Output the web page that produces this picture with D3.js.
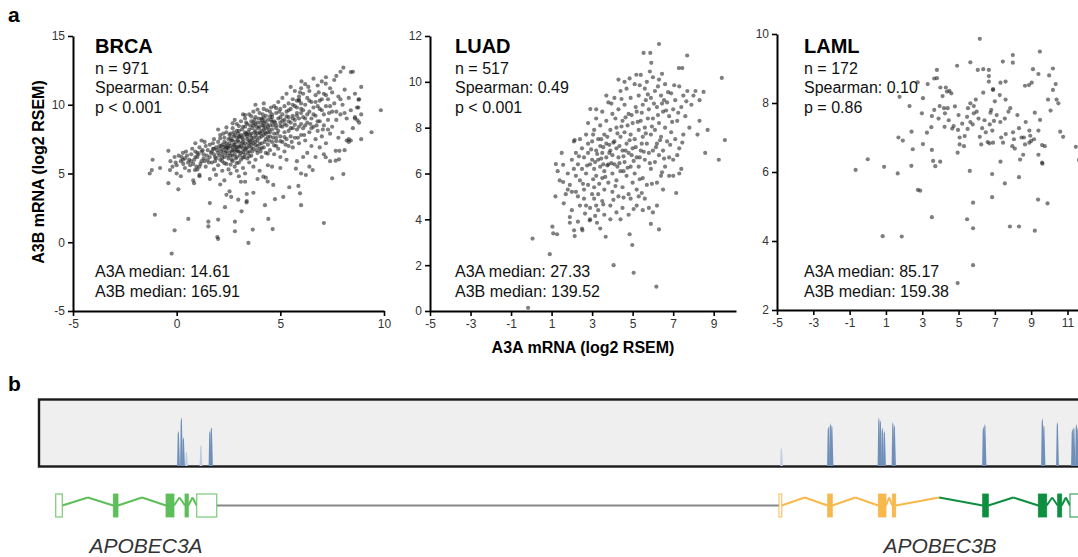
<!DOCTYPE html>
<html lang="en">
<head>
<meta charset="utf-8">
<title>A3A / A3B expression</title>
<script src="https://d3js.org/d3.v7.min.js"></script>
<style>
  body { margin: 0; background: #fff; }
  svg text { font-family: "Liberation Sans", Arial, sans-serif; }
  .tick text { font-size: 12px; fill: #333; }
</style>
</head>
<body>
<script>
// ---- panel a: A3A vs A3B expression, [A3A, A3B] log2 RSEM
const brcaPts = [
  [-1.2,5.25],[-1.3,5.0],[-1.16,6.0],[-0.8,5.4],[-1.05,2.0],[-0.4,6.65],[-0.32,5.25],[-0.4,4.3],[-0.1,0.87],[-0.24,-0.82],
  [0.08,3.85],[0.24,6.2],[0.32,5.7],[0.56,1.7],[0.84,4.3],[0.88,5.25],[1.1,4.8],[1.6,2.85],[1.53,1.5],[1.53,1.15],
  [2.0,1.65],[1.96,0.38],[2.0,0.24],[2.33,2.55],[2.4,3.45],[2.55,3.7],[2.81,1.5],[2.81,0.8],[2.97,3.1],[3.13,2.25],
  [3.3,4.4],[3.37,2.9],[3.7,3.6],[3.46,-0.05],[3.67,0.92],[4.26,2.7],[4.42,1.7],[4.63,0.96],[4.74,3.13],[5.14,3.3],
  [5.43,4.0],[5.87,4.1],[5.95,3.56],[6.0,2.7],[7.1,1.4],[7.5,4.65],[8.04,4.96],[7.85,6.65],[9.4,8.0],[9.85,9.6],
  [8.9,11.3],[8.8,10.4],[8.5,12.4],[8.04,12.7],[7.9,12.4],[7.7,12.1],[8.76,9.8],[8.6,9.0],[8.9,9.3],[8.3,7.5],
  [8.1,6.7],[2.63,3.3],[3.38,3.51],[3.38,3.0],[4.66,4.17],[4.39,4.41],[4.18,4.77],[6.23,4.89],[6.56,5.25],[5.75,5.35],
  [7.19,6.18],[7.67,5.93],[7.83,6.03],[7.67,6.65],[8.2,7.4],[8.4,7.4],[8.72,8.87],[8.77,10.37],[7.19,11.53],[6.02,11.7],
  [-0.3,5.9],[-0.1,6.2],[0.0,5.6],[0.1,6.3],[0.2,5.9],[0.3,6.5],[0.4,5.4],[0.4,6.1],[0.0,5.0],[0.2,4.8],[-0.2,5.5],
  [0.6,6.0],[0.7,6.4],[0.8,5.7],[0.9,6.6],[1.0,6.2],[1.0,5.3],[1.1,6.9],[1.2,5.9],[1.3,6.4],[1.4,7.0],[1.4,5.5],
  [0.6,5.2],[0.8,4.5],[1.1,4.9],[1.3,6.1],[1.2,7.4],[0.9,7.2],[1.5,6.7],[0.7,5.9],[1.0,6.5],
  [1.6,6.2],[1.6,7.1],[1.7,5.8],[1.7,6.6],[1.8,7.5],[1.8,5.3],[1.9,6.9],[1.9,6.1],[2.0,7.3],[2.0,6.5],[2.0,5.6],
  [2.1,7.8],[2.1,6.8],[2.1,6.0],[2.2,7.1],[2.2,6.4],[2.2,5.2],[2.3,7.6],[2.3,6.9],[2.3,6.2],[2.4,8.0],[2.4,7.2],
  [2.4,6.6],[2.4,5.7],[2.5,7.5],[2.5,6.8],[2.5,6.1],[1.6,4.6],[1.9,4.9],[2.3,4.5],[2.0,8.2],[2.2,5.9],[1.8,6.4],
  [2.5,5.3],[2.1,4.2],
  [2.6,7.9],[2.6,7.0],[2.6,6.3],[2.7,8.3],[2.7,7.4],[2.7,6.7],[2.7,5.9],[2.8,7.8],[2.8,7.1],[2.8,6.4],[2.8,5.5],
  [2.9,8.6],[2.9,7.6],[2.9,6.9],[2.9,6.2],[3.0,8.1],[3.0,7.3],[3.0,6.6],[3.0,5.8],[3.1,8.8],[3.1,7.8],[3.1,7.0],
  [3.1,6.0],[3.2,8.4],[3.2,7.5],[3.2,6.8],[3.2,5.4],[3.3,9.0],[3.3,8.0],[3.3,7.2],[3.3,6.4],[3.4,8.6],[3.4,7.7],
  [3.4,6.9],[3.4,6.1],[3.5,9.3],[3.5,8.2],[3.5,7.4],[3.5,6.6],[2.6,5.0],[3.0,4.8],[3.3,5.0],[2.8,8.9],[3.2,9.3],
  [3.5,5.8],[2.9,5.2],[3.1,4.4],
  [3.6,8.8],[3.6,7.9],[3.6,7.1],[3.6,6.3],[3.7,9.5],[3.7,8.5],[3.7,7.6],[3.7,6.8],[3.8,9.1],[3.8,8.1],[3.8,7.3],
  [3.8,6.0],[3.9,8.7],[3.9,7.9],[3.9,7.0],[3.9,6.5],[4.0,9.4],[4.0,8.4],[4.0,7.6],[4.0,6.8],[4.1,9.0],[4.1,8.1],
  [4.1,7.2],[4.1,6.2],[4.2,9.7],[4.2,8.7],[4.2,7.8],[4.2,6.9],[4.3,9.2],[4.3,8.3],[4.3,7.5],[4.3,6.5],[4.4,8.9],
  [4.4,8.0],[4.4,7.1],[4.4,5.6],[4.5,9.5],[4.5,8.5],[4.5,7.7],[4.5,6.7],[3.7,5.5],[4.0,5.2],[4.3,4.7],[3.9,4.6],
  [4.2,10.1],[3.8,10.0],
  [4.6,9.1],[4.6,8.2],[4.6,7.3],[4.7,9.9],[4.7,8.8],[4.7,7.9],[4.7,6.4],[4.8,9.4],[4.8,8.5],[4.8,7.6],[4.8,7.0],
  [4.9,10.2],[4.9,9.0],[4.9,8.1],[4.9,6.8],[5.0,9.7],[5.0,8.7],[5.0,7.7],[5.0,6.2],[5.1,10.5],[5.1,9.3],[5.1,8.4],
  [5.1,7.3],[5.2,9.9],[5.2,8.9],[5.2,8.0],[5.2,6.6],[5.3,10.8],[5.3,9.5],[5.3,8.5],[5.3,7.5],[5.4,10.1],[5.4,9.1],
  [5.4,8.1],[5.4,7.0],[5.5,9.7],[5.5,8.7],[5.5,7.7],[4.6,5.5],[5.0,5.4],[5.3,6.0],[5.5,11.3],
  [5.6,10.4],[5.6,9.2],[5.6,8.3],[5.6,6.9],[5.7,11.0],[5.7,9.9],[5.7,8.9],[5.7,7.6],[5.8,10.3],[5.8,9.4],[5.8,8.2],
  [5.9,10.6],[5.9,10.3],[5.9,9.0],[5.9,7.2],[6.0,11.2],[6.0,10.1],[6.0,8.6],[6.0,7.8],[6.1,10.8],[6.1,9.6],[6.1,8.3],
  [6.2,11.5],[6.2,10.0],[6.2,9.0],[6.2,7.4],[6.3,10.5],[6.3,8.7],[6.3,6.5],[6.4,11.0],[6.4,9.5],[6.4,8.0],[6.5,10.2],
  [6.5,9.0],[6.5,7.0],[5.8,5.9],[6.1,6.2],[6.4,5.5],[6.0,5.0],
  [6.6,11.9],[6.6,9.8],[6.6,8.4],[6.7,10.7],[6.7,9.2],[6.7,7.5],[6.8,11.4],[6.8,9.9],[6.8,8.1],[6.9,10.3],[6.9,8.8],
  [6.9,6.9],[7.0,11.7],[7.0,9.6],[7.0,7.7],[7.1,10.8],[7.1,8.5],[7.2,12.0],[7.2,9.9],[7.2,7.2],[7.3,10.4],[7.3,8.9],
  [7.4,11.2],[7.4,7.9],[7.5,9.5],[7.5,8.4],[6.7,6.2],[7.1,6.4],[7.4,5.9],
  [7.6,11.8],[7.6,10.1],[7.7,8.9],[7.8,10.6],[7.8,7.6],[7.9,9.3],[8.0,10.0],[8.0,8.0],[8.1,11.1],[8.2,9.0],
  [8.3,10.5],[8.3,7.3],[8.4,9.6],[8.5,8.3],[8.6,10.8],[8.6,9.1],[8.7,9.8],[8.8,8.7],[8.9,7.5],[8.4,12.38],
  [2.15,7.0],[2.35,6.5],[2.55,7.2],[2.65,6.6],[2.75,7.7],[2.85,6.9],[2.95,7.4],[3.05,6.9],[3.15,7.6],[3.25,7.0],
  [3.35,7.9],[3.45,7.2],[3.55,7.8],[3.65,7.4],[3.75,8.0],[3.85,7.6],[3.95,8.3],[4.05,7.9],[4.15,8.5],[4.25,8.0],
  [4.35,8.6],[4.45,8.2],[4.55,8.9],[4.65,8.5],[2.45,6.9],[2.65,7.4],[2.85,7.3],[3.05,7.7],[3.25,7.8],[3.45,8.0],
  [3.65,8.3],[3.85,8.4],[4.05,8.7],[4.25,8.8],[2.25,6.7],[2.5,7.0],[2.7,6.3],[3.0,7.0],[3.2,7.3],[3.4,7.5],
  [3.6,7.6],[3.8,7.8],[4.0,8.0],[4.2,8.2],[4.4,8.4],[3.1,6.5],[3.3,6.7],[3.5,7.0],[3.7,7.2],[3.9,7.4],
  [4.1,7.7],[4.3,7.9],[4.5,8.0],[2.9,6.7],[2.7,6.9],[2.3,7.3],[2.9,8.1],[3.3,8.4],[3.7,8.7],[4.1,8.9],
  [4.6,9.3],[5.0,9.1],[4.8,8.3],[5.2,8.6],[5.4,8.8],[5.6,9.0],[5.8,9.2],[6.0,9.4],[5.9,10.35],[1.75,6.8],
  [1.85,6.2],[2.05,6.3],[2.15,6.6],[2.35,7.0],[2.55,6.5],[2.75,7.1],[2.95,6.6],[3.15,7.2],[3.35,6.8],[3.55,7.3],
  [0.5,6.3],[0.65,5.6],[0.75,6.8],[0.85,6.0],[0.95,5.5],[1.05,6.4],[1.15,5.7],[1.25,6.7],[1.35,5.9],[1.45,6.3],
  [1.55,5.8],[1.65,6.5],[1.75,7.2],[1.85,5.9],[1.95,6.7],[0.55,5.8],[0.9,6.2],[1.2,6.6],[1.5,6.0],[1.8,6.8],
  [1.35,7.3],[1.1,5.5],[0.3,6.0],[0.45,6.6],[-0.05,5.8],
  [2.05,7.0],[2.25,7.9],[2.45,6.3],[2.55,7.8],[2.65,6.0],[2.75,8.0],[2.85,6.1],[2.95,7.9],[3.05,6.3],[3.15,8.2],
  [3.25,6.2],[3.35,8.7],[3.45,6.5],[3.55,8.5],[3.65,6.6],[3.75,8.9],[3.85,6.7],[3.95,9.0],[4.05,6.6],[4.15,9.3],
  [4.25,7.3],[4.35,9.6],[4.45,7.4],[4.55,9.8],[4.65,7.6],[4.75,8.7],[4.85,7.9],[4.95,9.5],[2.2,6.15],[2.4,6.85],
  [2.6,7.55],[2.8,6.65],[3.0,7.65],[3.2,6.15],[3.4,7.85],[3.6,6.85],[3.8,8.6],[4.0,7.15],[4.2,8.45],[4.4,7.65],
  [4.6,8.75],[4.8,7.35],[5.0,8.45],[2.3,5.75],[2.6,5.65],[2.9,5.75],[3.2,6.55],[3.5,6.25],[3.8,7.05],[4.1,6.85],
  [4.4,6.45],[4.7,7.05],[5.0,7.35],[2.1,7.55],[2.4,8.35],[2.7,8.65],[3.0,8.45],[3.3,9.25],[3.6,9.15],[3.9,9.65],
  [4.2,9.05],[4.5,9.15],[4.8,9.75],
  [5.1,8.85],[5.2,7.65],[5.3,9.15],[5.4,9.6],[5.5,8.3],[5.6,10.0],[5.7,8.55],[5.8,9.8],[5.9,8.4],[6.0,9.7],
  [6.1,9.1],[6.2,8.5],[6.3,9.3],[6.4,10.3],[6.5,8.3],[6.6,9.3],[6.7,10.2],[6.8,8.8],[6.9,9.7],[7.0,10.4],
  [7.1,9.3],[7.2,10.7],[7.3,8.2],[7.4,9.9],[7.5,10.9],[7.7,9.5],[7.9,10.4],[8.1,9.4],[5.25,7.1],[5.55,7.3],
  [5.85,7.6],[6.15,7.8],[6.45,8.6],[6.75,8.5],[7.05,8.2],[7.35,9.4],[5.95,10.9],[6.35,11.3],[6.85,10.9]
];

const luadPts = [
  [6.30,11.65],[5.54,11.26],[5.87,11.26],[5.92,10.83],[7.69,11.15],[7.28,10.6],[7.45,10.6],[5.18,10.31],[6.3,3.56],[4.98,2.88],
  [4.85,3.35],[6.17,1.06],[5.05,1.67],[4.06,2.0],[3.67,3.24],[0.91,2.48],[0.06,3.16],[1.08,3.39],[1.27,3.35],[1.04,3.68],
  [1.19,5.0],[2.11,3.52],[2.52,3.52],[2.14,3.27],[1.9,3.85],[2.88,3.95],[3.24,3.85],[1.57,5.63],[1.21,6.41],[1.57,6.38],
  [2.14,7.46],[2.91,8.81],[-0.16,0.14],
  [1.4,5.7],[1.8,6.0],[1.9,5.5],[1.7,5.1],[1.5,6.9],[2.0,6.6],[2.1,7.4],[1.6,4.7],[2.0,4.4],[1.9,4.1],[2.2,5.9],[2.0,5.2],
  [2.2,6.9],[2.3,6.4],[2.4,5.7],[2.5,6.2],[2.5,7.1],[2.6,5.3],[2.6,6.7],[2.7,7.7],[2.7,6.0],[2.8,5.5],[2.8,6.9],
  [2.9,6.4],[2.9,4.5],[3.0,7.4],[3.0,5.1],[2.4,4.6],[2.2,5.2],[2.6,4.9],[3.0,6.6],[2.8,7.3],[2.4,7.5],[2.3,3.9],
  [2.5,3.6],[2.9,4.0],
  [3.1,7.9],[3.1,6.2],[3.1,5.4],[3.2,7.0],[3.2,8.4],[3.2,5.9],[3.3,6.6],[3.3,7.5],[3.3,5.1],[3.4,8.1],[3.4,6.3],
  [3.4,7.2],[3.5,8.7],[3.5,5.8],[3.5,6.9],[3.5,4.8],[3.6,7.7],[3.6,6.1],[3.6,5.3],[3.7,8.3],[3.7,6.7],[3.7,7.3],
  [3.8,9.1],[3.8,5.6],[3.8,6.4],[3.9,7.9],[3.9,7.0],[3.9,4.6],[4.0,8.6],[4.0,6.0],[4.0,6.8],[4.0,5.2],[3.3,4.4],
  [3.6,4.2],[3.9,4.0],[3.4,3.6],[3.2,4.6],[3.7,9.4],[3.05,7.7],[3.15,6.5],[3.45,7.5],[3.55,6.4],[3.75,7.6],[3.85,6.9],
  [4.1,9.3],[4.1,7.4],[4.1,6.4],[4.2,8.0],[4.2,5.7],[4.2,7.1],[4.3,8.8],[4.3,6.7],[4.3,5.0],[4.4,9.6],[4.4,7.6],
  [4.4,6.1],[4.5,8.3],[4.5,7.0],[4.5,5.4],[4.6,9.0],[4.6,6.5],[4.6,7.8],[4.7,9.7],[4.7,7.3],[4.7,5.9],[4.8,8.6],
  [4.8,6.9],[4.8,5.1],[4.9,9.3],[4.9,7.7],[4.9,6.3],[5.0,8.2],[5.0,7.1],[5.0,5.6],[4.2,4.3],[4.5,4.5],[4.8,4.2],
  [4.4,4.0],[4.9,4.9],[4.6,10.0],[4.3,10.1],[4.15,8.4],[4.35,7.2],[4.55,6.1],[4.75,8.1],[4.95,6.8],[4.25,6.3],[4.65,7.0],
  [5.1,9.9],[5.1,7.5],[5.1,6.0],[5.2,8.7],[5.2,6.7],[5.2,5.3],[5.3,9.4],[5.3,7.9],[5.3,6.3],[5.4,10.3],[5.4,8.3],
  [5.4,7.0],[5.5,9.0],[5.5,7.6],[5.5,5.8],[5.6,9.7],[5.6,6.6],[5.6,8.0],[5.7,10.0],[5.7,7.3],[5.7,5.5],[5.8,8.8],
  [5.8,6.9],[5.9,9.3],[5.9,7.7],[5.9,6.2],[6.0,10.2],[6.0,8.4],[6.0,7.0],[5.2,4.6],[5.5,4.4],[5.8,4.5],[5.9,3.8],
  [5.3,5.0],[5.6,4.9],[5.15,8.9],[5.45,7.3],[5.75,8.4],[5.35,6.7],[5.65,9.2],
  [6.1,9.6],[6.1,7.9],[6.1,6.5],[6.2,8.9],[6.2,7.3],[6.2,5.6],[6.3,10.1],[6.3,8.2],[6.3,6.8],[6.4,9.4],[6.4,7.6],
  [6.4,5.9],[6.5,8.7],[6.5,7.0],[6.6,9.9],[6.6,8.0],[6.6,6.3],[6.7,9.1],[6.7,7.4],[6.8,8.5],[6.8,6.7],[6.9,9.5],
  [6.9,7.8],[7.0,8.8],[7.0,6.6],[6.2,4.6],[6.5,5.3],[6.8,5.9],[7.0,5.9],[6.0,4.3],[6.25,9.8],[6.55,9.2],
  [7.1,9.2],[7.1,7.5],[7.2,8.3],[7.2,6.8],[7.3,9.8],[7.3,7.1],[7.4,8.9],[7.4,6.2],[7.5,9.4],[7.5,7.7],[7.6,8.5],
  [7.7,9.6],[7.8,8.0],[7.9,9.0],[7.15,5.15],[7.3,6.0],
  [8.1,9.6],[8.3,9.2],[8.3,8.3],[8.5,9.56],[8.58,6.9],[8.7,7.9],[9.25,6.6],[9.4,10.17],[9.55,7.46],[8.0,9.4],[8.2,7.7],
  [2.1,6.2],[2.35,6.75],[2.55,5.55],[2.75,6.35],[2.95,7.05],[3.05,5.75],[3.25,6.85],[3.35,5.55],[3.45,6.65],[3.55,7.15],
  [3.65,5.85],[3.75,6.35],[3.85,7.25],[3.95,6.45],[4.05,7.35],[4.15,5.45],[4.25,7.75],[4.35,6.45],[4.45,8.05],[4.55,6.75],
  [4.65,8.45],[4.75,6.25],[4.85,7.45],[4.95,8.55],[5.05,6.55],[5.15,7.15],[5.25,8.25],[5.35,5.75],[5.45,8.65],[5.55,6.95],
  [5.65,7.75],[5.75,9.45],[5.85,6.45],[5.95,8.05],[6.05,9.05],[6.15,7.15],[6.25,8.55],[6.35,7.45],[6.45,9.05],[6.55,6.65],
  [6.65,8.75],[6.75,9.55],[6.85,7.25],[6.95,8.25],[7.05,9.85],[7.25,8.65],[7.45,7.35],[7.65,9.15],[2.65,4.25],[3.15,4.15],
  [3.55,4.65],[4.05,4.85],[4.55,4.95],[5.05,4.45],[5.45,5.15],[5.95,5.55],[6.45,6.05],[3.95,9.05],[4.45,9.25],[4.85,10.15],
  [5.35,9.85],[5.85,10.45],[6.45,10.35],[2.8,8.2],[3.2,8.8],[1.8,5.3],[2.3,5.0],[2.7,4.6],[3.1,4.9],[1.3,6.1]
];

const lamlPts = [
  [6.17,9.86],[3.81,8.96],[3.66,8.71],[3.81,8.72],[4.92,9.08],[5.65,9.18],[6.06,8.96],[6.36,8.98],[6.67,8.96],[6.67,8.78],
  [6.67,8.62],[6.36,8.3],[6.9,8.4],[7.44,9.2],[7.99,9.39],[7.99,9.17],[7.31,8.59],[7.59,8.62],[6.9,8.38],[9.48,9.49],
  [9.1,8.98],[9.4,8.84],[10.2,9.0],[9.99,8.8],[10.35,8.55],[10.2,8.38],[9.93,8.1],[10.4,8.1],[10.5,7.99],[10.07,7.78],
  [8.66,8.5],[8.88,8.52],[9.03,8.59],[10.6,7.17],[10.76,7.02],[11.46,6.73],[11.64,6.35],[9.49,7.51],[9.2,7.72],[9.4,7.2],
  [9.16,6.95],[9.6,6.78],[9.75,6.75],[8.9,6.85],[8.6,7.0],[8.66,6.8],[9.4,6.5],[9.6,6.27],[9.62,6.24],[9.38,5.2],
  [9.9,5.09],[9.2,4.3],[8.33,4.42],[7.83,4.42],[7.55,5.67],[6.85,5.27],[6.85,5.94],[5.8,5.11],[5.8,4.37],[5.47,4.63],
  [5.62,6.03],[5.8,3.3],[3.53,4.69],[4.95,2.78],[2.76,5.48],[2.89,5.46],[0.82,4.14],[1.87,4.13],[-0.67,6.06],[0.0,6.37],
  [0.9,6.15],[1.65,5.96],[2.4,6.18],[3.6,6.32],[3.72,6.17],[3.99,6.3],[3.53,6.64],[2.48,6.66],[3.04,6.81],[3.26,7.14],
  [2.41,7.17],[1.69,7.0],[1.93,6.91],[1.75,8.18],[2.3,7.91],[2.98,7.7],[3.04,8.14],[3.53,7.62],[3.66,7.8],[3.96,7.91],
  [4.12,8.2],[4.36,8.33],[4.6,8.28],[4.2,7.85],[4.25,7.7],[4.46,7.5],[4.73,7.33],[4.65,7.26],[5.0,7.65],[4.97,7.22],
  [5.06,7.0],[5.34,7.04],[5.06,6.8],[4.95,6.56],[5.52,7.85],[5.65,7.99],[5.84,7.91],[5.84,7.7],[5.47,7.6],[5.65,7.45],
  [5.78,7.38],[6.0,7.75],[6.17,7.02],[6.3,7.27],[6.43,7.5],[6.76,7.72],[6.8,7.8],[6.6,6.87],[6.7,6.83],[6.72,7.38],
  [6.95,7.48],[6.86,7.2],[6.9,6.85],[7.31,6.3],[7.35,7.0],[7.3,7.45],[7.55,7.55],[7.6,7.1],[7.75,7.75],[7.85,7.85],
  [7.96,6.75],[8.1,6.68],[8.0,7.15],[8.33,7.27],[8.24,7.65],[8.05,6.95],[8.47,7.0],[8.56,6.5],[8.33,5.85],[8.39,6.36],
  [8.95,7.05],[9.0,6.9],[7.27,8.23],[7.59,8.1],[4.3,8.45],[4.5,8.35],[4.0,8.45],[3.3,8.55],[2.75,8.6],[4.23,7.31],
  [3.5,7.3],[3.9,7.55],[4.4,7.85],[5.2,7.4],[5.3,6.75],[6.1,7.55],[6.25,6.8],[7.1,7.65],[7.45,6.85],[8.7,7.45],
  [8.9,7.2],[6.5,7.15],[5.95,8.1],[5.5,7.25],[4.8,7.9],[7.0,8.05]
];

const panelNames = ["BRCA", "LUAD", "LAML"];
const sampleN = [971, 517, 172];
const spearman = ["0.54", "0.49", "0.10"];
const pText = ["p < 0.001", "p < 0.001", "p = 0.86"];
const a3aMedian = ["14.61", "27.33", "85.17"];
const a3bMedian = ["165.91", "139.52", "159.38"];
const xTicks = [[-5, 0, 5, 10], [-5, -3, -1, 1, 3, 5, 7, 9], [-5, -3, -1, 1, 3, 5, 7, 9, 11]];
const yTicks = [[-5, 0, 5, 10, 15], [0, 2, 4, 6, 8, 10, 12], [2, 4, 6, 8, 10]];

// ---- panel b: read coverage spikes (position kb, height %) and gene model
const covPos = [6.975, 7.125, 7.225, 7.375, 8.1, 8.55, 8.625, 37.125, 39.475, 39.575, 39.65, 42.0, 42.075, 42.175, 42.275,
  42.7, 42.775, 47.225, 47.3, 50.175, 50.25, 50.925, 51.675, 51.75, 51.875, 51.95];
const covHeight = [55, 76, 45, 22, 33, 55, 61, 28, 62, 67, 64, 76, 72, 60, 55, 69, 64, 62, 66, 75, 64, 69, 58, 61, 66, 60];
const covFaint = [0, 0, 0, 1, 1, 0, 0, 1, 0, 0, 0, 0, 0, 0, 0, 0, 0, 0, 0, 0, 0, 0, 0, 0, 0, 0];

const a3aExons = [[0.835, 1.165], [3.715, 3.95], [6.35, 6.75], [7.3, 7.465], [7.885, 8.885]];
const a3aUtr = [1, 0, 0, 0, 1];
const a3bExons = [[37.0, 37.135], [39.435, 39.665], [41.965, 42.35], [42.665, 42.835], [47.185, 47.465],
  [49.965, 50.385], [50.935, 51.135], [51.55, 52.6]];
const a3bUtr = [1, 0, 0, 0, 0, 0, 0, 1];
const a3bGroup = ["b", "b", "b", "b", "f", "f", "f", "f"];

const svg = d3.select("body").append("svg")
  .attr("width", 1078)
  .attr("height", 557);

svg.append("text").attr("x", 8).attr("y", 22)
  .style("font-size", "21px").style("font-weight", "bold").text("a");
svg.append("text").attr("x", 8).attr("y", 391)
  .style("font-size", "21px").style("font-weight", "bold").text("b");

// layout of the three scatter panels
const layout = [
  { xd: [-5, 10], xr: [73, 384], yd: [-5, 15], yr: [311, 36], tx: 95 },
  { xd: [-5, 10.1], xr: [430, 736], yd: [0, 12], yr: [311, 36], tx: 455 },
  { xd: [-5, 11.8], xr: [777, 1082], yd: [2, 10], yr: [310, 34], tx: 804 }
];
const allPts = [brcaPts, luadPts, lamlPts];

layout.forEach(function(L, i) {
  const x = d3.scaleLinear().domain(L.xd).range(L.xr);
  const y = d3.scaleLinear().domain(L.yd).range(L.yr);
  const g = svg.append("g");

  g.append("g").selectAll("circle")
    .data(allPts[i])
    .join("circle")
    .attr("cx", d => x(d[0]))
    .attr("cy", d => y(d[1]))
    .attr("r", 2.1)
    .attr("fill", "#222")
    .attr("fill-opacity", 0.58);

  const yAxis = g.append("g")
    .attr("transform", "translate(" + L.xr[0] + ",0)")
    .call(d3.axisLeft(y).tickValues(yTicks[i]).tickSize(5).tickSizeOuter(0).tickFormat(d3.format("d")));
  const xAxis = g.append("g")
    .attr("transform", "translate(0," + L.yr[0] + ")")
    .call(d3.axisBottom(x).tickValues(xTicks[i]).tickSize(5).tickSizeOuter(0).tickFormat(d3.format("d")));
  [xAxis, yAxis].forEach(function(a) {
    a.select(".domain").attr("stroke", "#000").attr("stroke-width", 2);
    a.selectAll(".tick line").attr("stroke", "#000").attr("stroke-width", 1.6);
    a.selectAll(".tick text").text(function(d) { return d < 0 ? "-" + Math.abs(d) : d; });
  });

  g.append("text").attr("x", L.tx).attr("y", 53)
    .style("font-size", "20px").style("font-weight", "bold").text(panelNames[i]);
  const lines = ["n = " + sampleN[i], "Spearman: " + spearman[i], pText[i]];
  lines.forEach(function(t, j) {
    g.append("text").attr("x", L.tx).attr("y", 73.5 + j * 19.5)
      .style("font-size", "16px").attr("fill", "#111").text(t);
  });
  g.append("text").attr("x", L.tx).attr("y", 276.5)
    .style("font-size", "16px").attr("fill", "#111").text("A3A median: " + a3aMedian[i]);
  g.append("text").attr("x", L.tx).attr("y", 297)
    .style("font-size", "16px").attr("fill", "#111").text("A3B median: " + a3bMedian[i]);
});

svg.append("text")
  .attr("transform", "translate(44,172) rotate(-90)")
  .attr("text-anchor", "middle")
  .style("font-size", "16px").style("font-weight", "bold")
  .text("A3B mRNA (log2 RSEM)");
svg.append("text")
  .attr("x", 583).attr("y", 353)
  .attr("text-anchor", "middle")
  .style("font-size", "16px").style("font-weight", "bold")
  .text("A3A mRNA (log2 RSEM)");

// ---- panel b
const gx = d3.scaleLinear().domain([0, 52.5]).range([39, 1089]);
const cy = d3.scaleLinear().domain([0, 100]).range([466, 402]);

svg.append("rect")
  .attr("x", 39).attr("y", 399.5)
  .attr("width", 1060).attr("height", 67)
  .attr("fill", "#efefef")
  .attr("stroke", "#1a1a1a")
  .attr("stroke-width", 2.4);

const spike = d3.line().x(d => gx(d[0])).y(d => cy(d[1]));
covPos.forEach(function(p, i) {
  const h = covHeight[i];
  svg.append("path")
    .attr("d", spike([[p - 0.07, 0], [p - 0.04, h * 0.9], [p - 0.015, h], [p + 0.02, h * 0.94], [p + 0.07, 0]]) + "Z")
    .attr("fill", covFaint[i] ? "#bfcde0" : "#6f8fb8");
});

const gy = 505.5, exH = 23, bump = 8;
const colors = { a: "#5dbe5a", b: "#f7b84c", f: "#0d8f3f" };

function drawGene(exons, utr, groups) {
  // introns as chevrons, each half coloured by its neighbouring exon
  for (let i = 0; i < exons.length - 1; i++) {
    const x0 = gx(exons[i][1]), x1 = gx(exons[i + 1][0]), xm = (x0 + x1) / 2;
    svg.append("path").attr("d", "M" + x0 + "," + gy + "L" + xm + "," + (gy - bump))
      .attr("stroke", colors[groups[i]]).attr("stroke-width", 2).attr("fill", "none");
    svg.append("path").attr("d", "M" + xm + "," + (gy - bump) + "L" + x1 + "," + gy)
      .attr("stroke", colors[groups[i + 1]]).attr("stroke-width", 2).attr("fill", "none");
  }
  exons.forEach(function(e, i) {
    const c = colors[groups[i]];
    svg.append("rect")
      .attr("x", gx(e[0])).attr("y", gy - exH / 2)
      .attr("width", Math.max(gx(e[1]) - gx(e[0]), 1)).attr("height", exH)
      .attr("fill", utr[i] ? "#fff" : c)
      .attr("stroke", c)
      .attr("stroke-opacity", utr[i] ? 0.75 : 1)
      .attr("stroke-width", utr[i] ? 1.3 : 0.8);
  });
}

svg.append("line")
  .attr("x1", gx(a3aExons[a3aExons.length - 1][1])).attr("x2", gx(a3bExons[0][0]))
  .attr("y1", gy).attr("y2", gy)
  .attr("stroke", "#888").attr("stroke-width", 2);

drawGene(a3aExons, a3aUtr, a3aExons.map(() => "a"));
drawGene(a3bExons, a3bUtr, a3bGroup);

svg.append("text").attr("x", 146).attr("y", 553)
  .attr("text-anchor", "middle")
  .style("font-size", "21px").style("font-style", "italic").attr("fill", "#333")
  .text("APOBEC3A");
svg.append("text").attr("x", 940).attr("y", 553)
  .attr("text-anchor", "middle")
  .style("font-size", "21px").style("font-style", "italic").attr("fill", "#333")
  .text("APOBEC3B");
</script>
</body>
</html>
